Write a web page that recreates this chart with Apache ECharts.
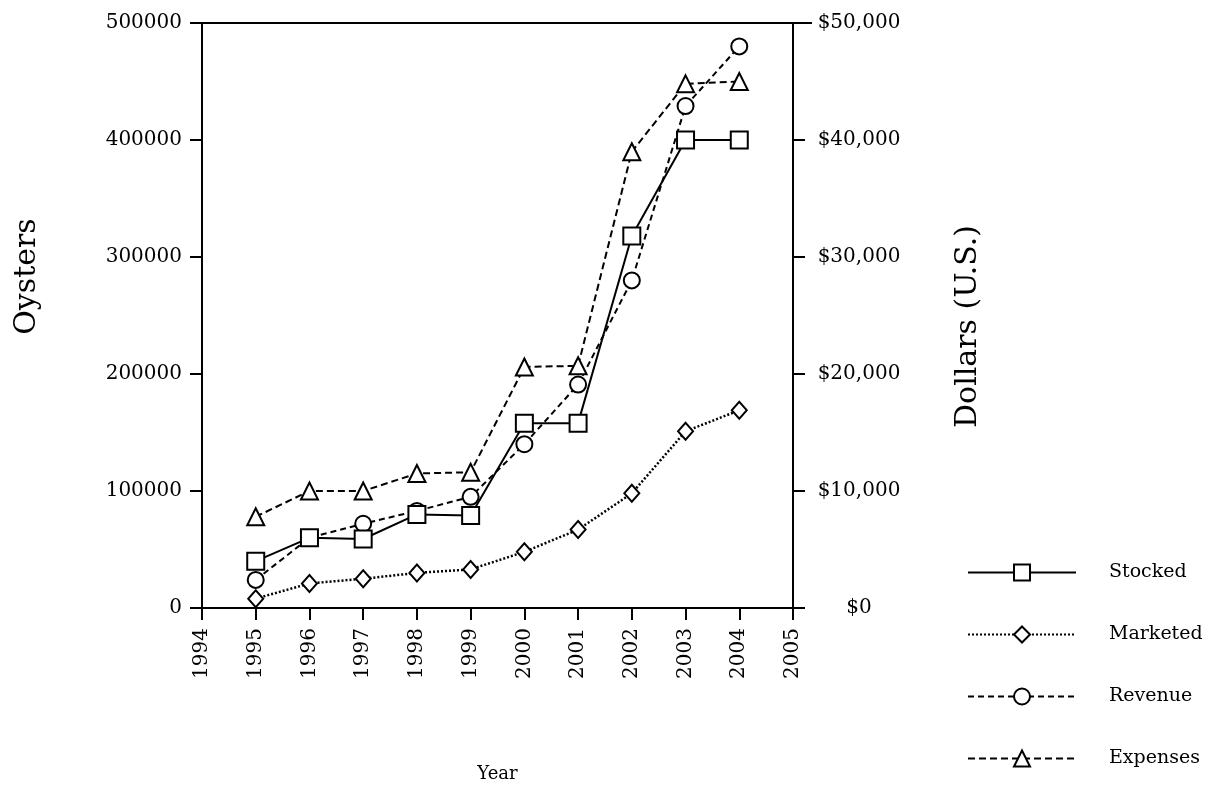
<!DOCTYPE html>
<html>
<head>
<meta charset="utf-8">
<script src="https://cdn.jsdelivr.net/npm/echarts@6/dist/echarts.min.js"></script>
<style>
html,body{margin:0;padding:0;background:#fff;}
#chart{width:1220px;height:788px;}
</style>
</head>
<body>
<div id="chart"></div>
<script>
const years = [1995, 1996, 1997, 1998, 1999, 2000, 2001, 2002, 2003, 2004];
const stocked = [40000, 60000, 59000, 80000, 79000, 158000, 158000, 318000, 400000, 400000];
const marketed = [8000, 21000, 25000, 30000, 33000, 48000, 67000, 98000, 151000, 169000];
const revenue = [2400, 6000, 7200, 8300, 9500, 14000, 19100, 28000, 42900, 48000];
const expenses = [7800, 10000, 10000, 11500, 11600, 20600, 20700, 39000, 44800, 45000];
const seriesNames = ['Stocked', 'Marketed', 'Revenue', 'Expenses'];
const xTitle = 'Year';
const yLeftTitle = 'Oysters';
const yRightTitle = 'Dollars (U.S.)';

const FONT = 'DejaVu Serif';
function pairs(vals) { return years.map((y, i) => [y, vals[i]]); }

const chart = echarts.init(document.getElementById('chart'), null, {renderer: 'canvas'});
const axisLine = {show: true, onZero: false, lineStyle: {color: '#000', width: 2}};
const tick = {show: true, inside: false, length: 12, lineStyle: {color: '#000', width: 2}};
const markerStyle = {color: '#fff', borderColor: '#000', borderWidth: 2};

chart.setOption({
  animation: false,
  backgroundColor: '#fff',
  textStyle: {fontFamily: FONT, color: '#000'},
  grid: {left: 202, right: 427, top: 23, bottom: 180, containLabel: false},
  xAxis: {
    type: 'value', min: 1994, max: 2005, interval: 1,
    name: xTitle, nameLocation: 'middle', nameGap: 157,
    nameTextStyle: {fontFamily: FONT, fontSize: 18, color: '#000'},
    axisLine: axisLine, axisTick: tick, splitLine: {show: false},
    axisLabel: {rotate: 90, margin: 20, fontFamily: FONT, fontSize: 20, color: '#000', formatter: v => String(v)}
  },
  yAxis: [{
    type: 'value', min: 0, max: 500000, interval: 100000, position: 'left',
    name: yLeftTitle, nameLocation: 'middle', nameGap: 160, nameRotate: 90,
    nameTextStyle: {fontFamily: FONT, fontSize: 30, color: '#000', padding: [0, 0, 0, 78]},
    axisLine: axisLine, axisTick: tick, splitLine: {show: false},
    axisLabel: {margin: 20, fontFamily: FONT, fontSize: 20, color: '#000', formatter: v => String(v)}
  }, {
    type: 'value', min: 0, max: 50000, interval: 10000, position: 'right',
    name: yRightTitle, nameLocation: 'middle', nameGap: 160, nameRotate: 90,
    nameTextStyle: {fontFamily: FONT, fontSize: 30, color: '#000', padding: [0, 22, 0, 0]},
    axisLine: axisLine, axisTick: tick, splitLine: {show: false},
    axisLabel: {margin: 66, align: 'center', fontFamily: FONT, fontSize: 20, color: '#000',
      formatter: v => '$' + v.toLocaleString('en-US')}
  }],
  legend: {
    orient: 'vertical', left: 962, top: 558,
    itemWidth: 108, itemHeight: 20, itemGap: 43,
    lineStyle: {width: 2},
    textStyle: {fontFamily: FONT, fontSize: 19, color: '#000', padding: [0, 0, 0, 28]},
    data: seriesNames
  },
  graphic: [{
    type: 'line', shape: {x1: 191, y1: 23, x2: 812, y2: 23},
    style: {stroke: '#000', lineWidth: 2}, silent: true
  }],
  series: [{
    name: seriesNames[0], type: 'line', data: pairs(stocked), yAxisIndex: 0, z: 6,
    symbol: 'rect', symbolSize: 17, showAllSymbol: true,
    lineStyle: {color: '#000', width: 2, type: 'solid'},
    itemStyle: markerStyle, emphasis: {disabled: true}
  }, {
    name: seriesNames[1], type: 'line', data: pairs(marketed), yAxisIndex: 0, z: 3,
    symbol: 'diamond', symbolSize: [15, 17], showAllSymbol: true,
    lineStyle: {color: '#000', width: 2.5, type: [2, 2]},
    itemStyle: markerStyle, emphasis: {disabled: true}
  }, {
    name: seriesNames[2], type: 'line', data: pairs(revenue), yAxisIndex: 1, z: 4,
    symbol: 'circle', symbolSize: 16, showAllSymbol: true,
    lineStyle: {color: '#000', width: 2, type: [6, 4]},
    itemStyle: markerStyle, emphasis: {disabled: true}
  }, {
    name: seriesNames[3], type: 'line', data: pairs(expenses), yAxisIndex: 1, z: 5,
    symbol: 'triangle', symbolSize: 17, showAllSymbol: true,
    lineStyle: {color: '#000', width: 2, type: [7, 4]},
    itemStyle: markerStyle, emphasis: {disabled: true}
  }]
});
</script>
</body>
</html>
